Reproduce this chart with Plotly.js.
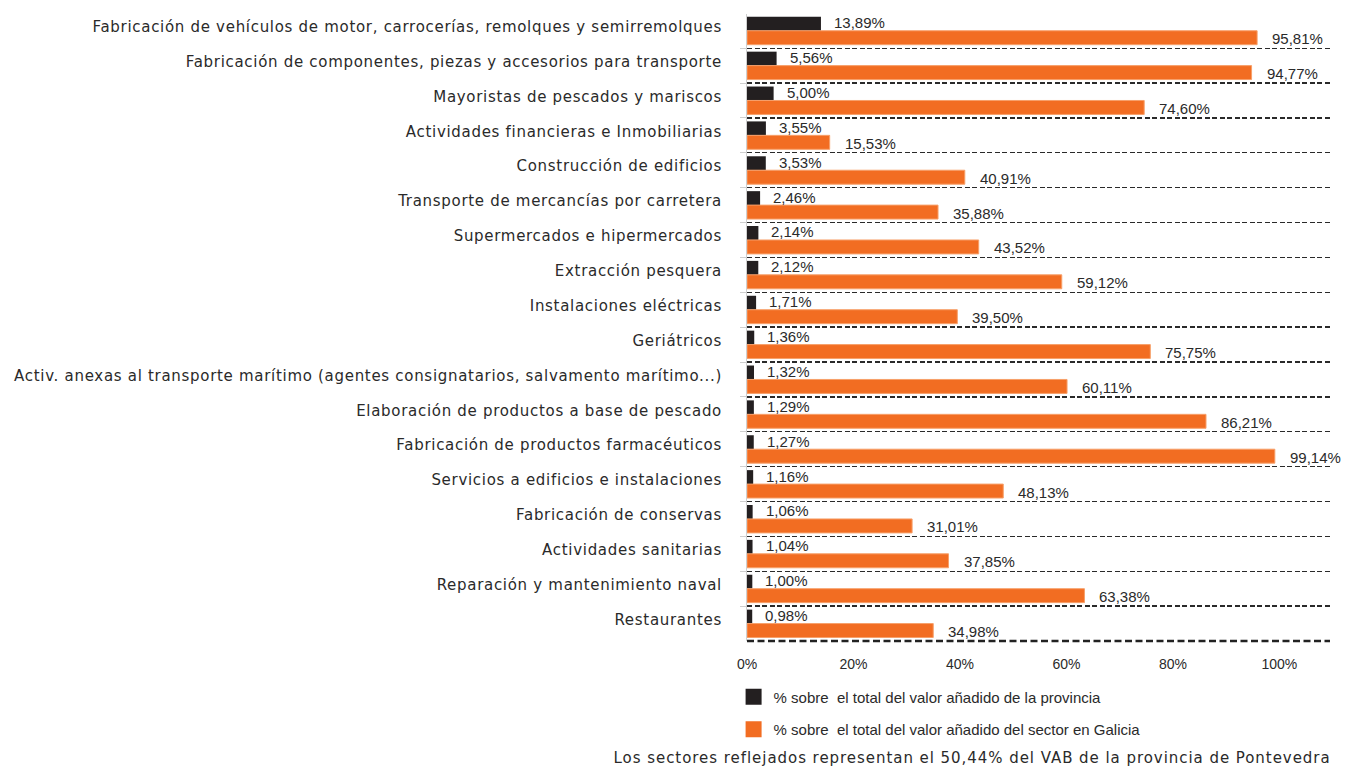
<!DOCTYPE html>
<html><head><meta charset="utf-8">
<script src="https://cdn.plot.ly/plotly-3.0.1.min.js"></script>
<style>
html,body{margin:0;padding:0;background:#fff}
#chart{width:1348px;height:769px}
#chart text[style*="DejaVu"]{letter-spacing:0.7px}
#chart .annotation-text[style*="DejaVu"]{letter-spacing:0.95px}
</style>
</head><body><div id="chart"></div>
<script>
const categories = [
  "Fabricación de vehículos de motor, carrocerías, remolques y semirremolques",
  "Fabricación de componentes, piezas y accesorios para transporte",
  "Mayoristas de pescados y mariscos",
  "Actividades financieras e Inmobiliarias",
  "Construcción de edificios",
  "Transporte de mercancías por carretera",
  "Supermercados e hipermercados",
  "Extracción pesquera",
  "Instalaciones eléctricas",
  "Geriátricos",
  "Activ. anexas al transporte marítimo (agentes consignatarios, salvamento marítimo...)",
  "Elaboración de productos a base de pescado",
  "Fabricación de productos farmacéuticos",
  "Servicios a edificios e instalaciones",
  "Fabricación de conservas",
  "Actividades sanitarias",
  "Reparación y mantenimiento naval",
  "Restaurantes"
];
const provinciaPct = [13.89,5.56,5.00,3.55,3.53,2.46,2.14,2.12,1.71,1.36,1.32,1.29,1.27,1.16,1.06,1.04,1.00,0.98];
const galiciaPct = [95.81,94.77,74.60,15.53,40.91,35.88,43.52,59.12,39.50,75.75,60.11,86.21,99.14,48.13,31.01,37.85,63.38,34.98];
const xTickVals = [0,20,40,60,80,100];
const xTickText = ["0%","20%","40%","60%","80%","100%"];
const seriesNames = ["% sobre  el total del valor añadido de la provincia","% sobre  el total del valor añadido del sector en Galicia"];
const seriesColors = ["#231F20", "#F26D22"];
const footer = "Los sectores reflejados representan el 50,44% del VAB de la provincia de Pontevedra";

const FONT = "Liberation Sans, Arial, sans-serif";
const FONT2 = "DejaVu Sans, sans-serif";
const TXT = "#2a2a2a";
const fmt = v => v.toFixed(2).replace('.', ',') + '%';

const traces = [
  {type:'bar', orientation:'h', name:seriesNames[0], y:categories, x:provinciaPct,
   marker:{color:seriesColors[0]}, showlegend:false},
  {type:'bar', orientation:'h', name:seriesNames[1], y:categories, x:galiciaPct,
   marker:{color:seriesColors[1], line:{color:'#F7A06A', width:1}}, showlegend:false},
  // legend keys (no data points)
  {type:'scatter', mode:'markers', name:seriesNames[0], x:[null], y:[null], legendgroup:'a',
   marker:{symbol:'square', size:16, color:seriesColors[0]}, hoverinfo:'skip'},
  {type:'scatter', mode:'markers', name:seriesNames[1], x:[null], y:[null], legendgroup:'b',
   marker:{symbol:'square', size:16, color:seriesColors[1]}, hoverinfo:'skip'}
];

const annotations = [];
categories.forEach((c,i)=>{
  annotations.push({x:provinciaPct[i], y:c, xref:'x', yref:'y', text:fmt(provinciaPct[i]), showarrow:false,
    xanchor:'left', yanchor:'middle', xshift:11, yshift:8, font:{family:FONT,size:15,color:TXT}});
  annotations.push({x:galiciaPct[i], y:c, xref:'x', yref:'y', text:fmt(galiciaPct[i]), showarrow:false,
    xanchor:'left', yanchor:'middle', xshift:13, yshift:-8, font:{family:FONT,size:15,color:TXT}});
});
annotations.push({x:1, y:-0.187, xref:'paper', yref:'paper', text:footer, showarrow:false,
  xanchor:'right', yanchor:'middle', xshift:-37, font:{family:FONT2,size:15,color:TXT}});

const layout = {
  width:1348, height:769,
  margin:{l:747, r:18, t:14, b:128},
  paper_bgcolor:'#fff', plot_bgcolor:'#fff',
  font:{family:FONT, size:15, color:TXT},
  barmode:'group', bargap:0.2, bargroupgap:0,
  showlegend:true,
  legend:{orientation:'v', x:-0.023, xanchor:'left', y:-0.063, yanchor:'top', traceorder:'grouped',
    tracegroupgap:10, itemwidth:30, font:{family:FONT,size:15,color:TXT}, bgcolor:'rgba(0,0,0,0)'},
  xaxis:{range:[0,109.5], tickvals:xTickVals, ticktext:xTickText, showgrid:false, zeroline:false,
    showline:false, ticks:'', ticklabelstandoff:13, tickfont:{family:FONT,size:14,color:TXT}, fixedrange:true},
  yaxis:{type:'category', range:[17.5,-0.48], tickson:'boundaries', showgrid:true,
    gridcolor:'#2a2a2a', griddash:'5px,2.5px', gridwidth:1.3, showline:true, linecolor:'#cfcfcf', linewidth:1,
    ticks:'outside', ticklen:6, tickcolor:'#cfcfcf', ticklabelstandoff:21, ticklabelshift:4,
    tickfont:{family:FONT2,size:15,color:TXT}, fixedrange:true},
  shapes:[{type:'line', xref:'paper', yref:'paper', x0:0, x1:1, y0:0, y1:0,
    line:{color:'#222', width:2.5, dash:'7px,3.5px'}}],
  annotations:annotations
};
Plotly.newPlot('chart', traces, layout, {displayModeBar:false, staticPlot:true});
</script></body></html>
